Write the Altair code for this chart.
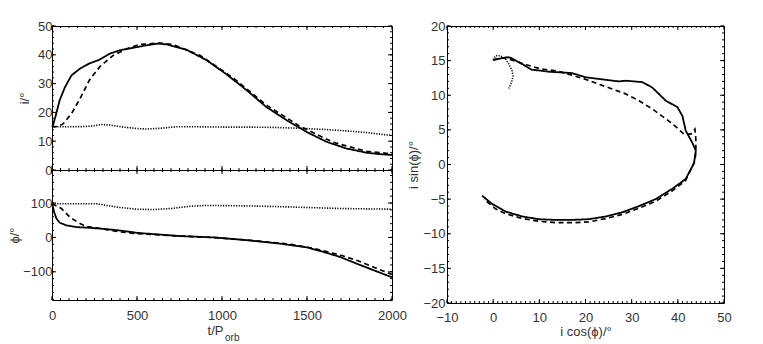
import altair as alt
import pandas as pd

FONT = "Liberation Sans"
STYLES = ["solid", "dashed", "dotted"]

# ---------- top-left: inclination i vs t ----------
t_i_solid = [0, 6, 25, 45, 75, 115, 165, 220, 280, 340, 400, 475, 555, 625, 675, 790, 910, 1025, 1145, 1260, 1380, 1495, 1615, 1730, 1850, 1930, 2000]
i_solid = [15.0, 15.5, 19.6, 24.2, 28.6, 32.9, 35.2, 37.0, 38.3, 40.4, 41.6, 42.4, 43.3, 43.9, 43.6, 41.8, 38.1, 33.3, 27.7, 21.9, 17.3, 13.3, 9.8, 7.5, 6.0, 5.5, 5.2]
t_i_dashed = [0, 30, 65, 115, 165, 220, 280, 360, 440, 515, 635, 710, 870, 1065, 1260, 1455, 1655, 1850, 2000]
i_dashed = [15.0, 15.1, 16.0, 19.6, 24.8, 31.2, 35.8, 39.8, 42.1, 43.6, 44.1, 43.6, 39.8, 32.0, 22.6, 15.3, 9.6, 6.5, 5.6]
t_i_dotted = [0, 100, 200, 250, 290, 340, 420, 500, 560, 640, 730, 850, 1000, 1150, 1300, 1450, 1600, 1750, 1850, 1950, 2000]
i_dotted = [15.0, 15.0, 15.1, 15.4, 15.8, 15.6, 14.9, 14.4, 14.2, 14.5, 15.0, 15.0, 14.9, 14.9, 14.8, 14.5, 14.1, 13.5, 13.0, 12.3, 12.0]

# ---------- bottom-left: phase phi vs t ----------
t_p_solid = [0, 5, 12, 26, 45, 85, 143, 222, 320, 400, 506, 750, 950, 1145, 1340, 1500, 1595, 1690, 1790, 1890, 2000]
p_solid = [98, 90, 74, 55, 43, 35, 30, 28, 24, 20, 13, 4, 0, -8, -18, -29, -42, -56, -76, -95, -116]
t_p_dashed = [0, 55, 105, 155, 200, 260, 330, 400, 480, 600, 800, 1000, 1200, 1400, 1550, 1700, 1800, 1900, 2000]
p_dashed = [98, 84, 59, 43, 32, 28, 22, 16, 12, 8, 3, -2, -10, -20, -33, -52, -68, -88, -108]
t_p_dotted = [0, 260, 320, 400, 500, 600, 700, 800, 900, 1100, 1300, 1500, 1700, 1850, 2000]
p_dotted = [98, 98, 93, 87, 82, 81, 84, 90, 93, 92, 90, 87, 84, 83, 82]

# ---------- right: i sin(phi) vs i cos(phi) ----------
c_solid = [0.0, 3.1, 3.8, 6.3, 8.3, 12.1, 17.1, 20.0, 23.6, 27.2, 28.7, 32.3, 34.5, 37.4, 39.9, 41.0, 41.7, 43.1, 43.9, 43.5, 41.7, 38.8, 35.2, 31.6, 28.0, 24.4, 20.7, 17.1, 13.5, 9.9, 6.3, 2.7, -0.2, -2.4]
s_solid = [15.1, 15.5, 15.4, 14.5, 13.7, 13.4, 13.2, 12.6, 12.3, 12.0, 12.1, 11.9, 11.1, 9.2, 8.3, 7.0, 4.9, 3.2, 2.0, 0.2, -2.1, -3.5, -5.0, -6.0, -6.9, -7.5, -7.9, -8.0, -8.0, -7.9, -7.5, -6.8, -5.7, -4.5]
c_dashed = [0.0, 2.2, 4.5, 7.2, 10.3, 13.9, 17.1, 20.0, 22.9, 25.8, 28.7, 31.6, 34.5, 37.4, 39.5, 41.3, 42.8, 43.7, 43.9, 43.9, 43.7, 41.7, 38.8, 35.2, 31.6, 28.0, 24.4, 20.7, 17.1, 13.5, 9.9, 6.3, 2.7, 0.5, -2.0]
s_dashed = [15.1, 15.4, 15.0, 14.4, 13.8, 13.5, 12.9, 12.3, 11.6, 10.9, 10.2, 9.2, 8.0, 6.6, 5.5, 4.4, 4.4, 5.1, 3.7, 1.8, 0.5, -2.3, -3.8, -5.3, -6.3, -7.2, -7.8, -8.3, -8.4, -8.4, -8.2, -7.8, -7.1, -6.4, -5.0]
c_dotted = [0.0, 0.5, 1.6, 2.7, 3.4, 4.1, 4.3, 4.0, 3.4]
s_dotted = [15.1, 15.7, 15.7, 15.2, 14.5, 13.5, 12.8, 11.9, 11.0]

# ---------- axis ticks ----------
t_major = [0, 500, 1000, 1500, 2000]
t_minor = list(range(0, 2001, 50))
i_major = [0, 10, 20, 30, 40, 50]
i_minor = list(range(0, 51, 2))
p_major = [-100, 0, 100]
p_minor = list(range(-180, 181, 20))
c_major = [-10, 0, 10, 20, 30, 40, 50]
c_minor = list(range(-10, 51, 1))
s_major = [-20, -15, -10, -5, 0, 5, 10, 15, 20]
s_minor = list(range(-20, 21, 1))

subscript = "orb"

MAJOR_LEN = 4
MINOR_LEN = 2


def long_df(series):
    rows = []
    for name, xs, ys in series:
        for k, (a, b) in enumerate(zip(xs, ys)):
            rows.append({"series": name, "k": k, "x": a, "y": b})
    return pd.DataFrame(rows)


dash_scale = alt.Scale(domain=STYLES, range=[[1, 0], [5, 3.5], [1.2, 1.4]])
width_scale = alt.Scale(domain=STYLES, range=[1.8, 1.6, 1.4])


def tick_layers(vals, scale, W, H, size, horizontal):
    d = alt.Chart(pd.DataFrame({"v": vals})).mark_rule(color="black", strokeWidth=1)
    if horizontal:  # ticks along the bottom and top borders
        enc = dict(x=alt.X("v:Q", scale=scale, axis=None))
        return [
            d.encode(y=alt.value(H), y2=alt.value(H - size), **enc),
            d.encode(y=alt.value(0), y2=alt.value(size), **enc),
        ]
    enc = dict(y=alt.Y("v:Q", scale=scale, axis=None))
    return [
        d.encode(x=alt.value(0), x2=alt.value(size), **enc),
        d.encode(x=alt.value(W), x2=alt.value(W - size), **enc),
    ]


def panel(df, xdom, ydom, W, H, xmaj, xmin, ymaj, ymin, xaxis_kw, yaxis_kw, extra=None):
    xs = alt.Scale(domain=xdom, nice=False, zero=False)
    ys = alt.Scale(domain=ydom, nice=False, zero=False)
    main = alt.Chart(df).mark_line(color="black").encode(
        x=alt.X("x:Q", scale=xs,
                axis=alt.Axis(orient="bottom", values=xmaj, ticks=False, tickSize=0, format="d",
                              domain=False, grid=False, labelFlush=False, **xaxis_kw)),
        y=alt.Y("y:Q", scale=ys,
                axis=alt.Axis(orient="left", values=ymaj, ticks=False, tickSize=0, format="d",
                              domain=False, grid=False, **yaxis_kw)),
        strokeDash=alt.StrokeDash("series:N", scale=dash_scale, legend=None),
        strokeWidth=alt.StrokeWidth("series:N", scale=width_scale, legend=None),
        order="k:Q",
    )
    layers = [main]
    layers += tick_layers(xmaj, xs, W, H, MAJOR_LEN, True)
    layers += tick_layers(xmin, xs, W, H, MINOR_LEN, True)
    layers += tick_layers(ymaj, ys, W, H, MAJOR_LEN, False)
    layers += tick_layers(ymin, ys, W, H, MINOR_LEN, False)
    if extra is not None:
        layers.append(extra)
    return alt.layer(*layers).resolve_axis(x="independent", y="independent").properties(width=W, height=H)


df_i = long_df([("solid", t_i_solid, i_solid), ("dashed", t_i_dashed, i_dashed), ("dotted", t_i_dotted, i_dotted)])
df_p = long_df([("solid", t_p_solid, p_solid), ("dashed", t_p_dashed, p_dashed), ("dotted", t_p_dotted, p_dotted)])
df_r = long_df([("solid", c_solid, s_solid), ("dashed", c_dashed, s_dashed), ("dotted", c_dotted, s_dotted)])

LW = 340
top = panel(df_i, [0, 2000], [0, 50], LW, 144, t_major, t_minor, i_major, i_minor,
            dict(labels=False, title=None),
            dict(title="i/°", labelPadding=0, titlePadding=6))

sub = alt.Chart(pd.DataFrame({"s": [subscript]})).mark_text(
    align="left", baseline="middle", fontSize=10, font=FONT, color="#333"
).encode(text="s:N", x=alt.value(173), y=alt.value(168))

bottom = panel(df_p, [0, 2000], [-182, 196], LW, 130, t_major, t_minor, p_major, p_minor,
               dict(title="t/P", labelPadding=9, titlePadding=2, titleX=163),
               dict(title="ϕ/°", labelPadding=0, titlePadding=1),
               extra=sub)

right = panel(df_r, [-10, 50], [-20, 20], 277, 277, c_major, c_minor, s_major, s_minor,
              dict(title="i cos(ϕ)/°", labelPadding=8, titlePadding=1),
              dict(title="i sin(ϕ)/°", labelPadding=2, titlePadding=2))

left = alt.vconcat(top, bottom, spacing=0, bounds="flush")
chart = alt.hconcat(left, right, spacing=0).configure(
    padding={"left": 0, "top": 11, "right": 5, "bottom": 0}, font=FONT
).configure_view(stroke="black", strokeWidth=1).configure_axis(
    labelFont=FONT, titleFont=FONT, labelFontSize=13, titleFontSize=13,
    labelColor="#333", titleColor="#333", titleFontWeight="normal",
    minExtent=0
)

chart.save("out.html", embed_options={"renderer": "svg", "actions": False})
